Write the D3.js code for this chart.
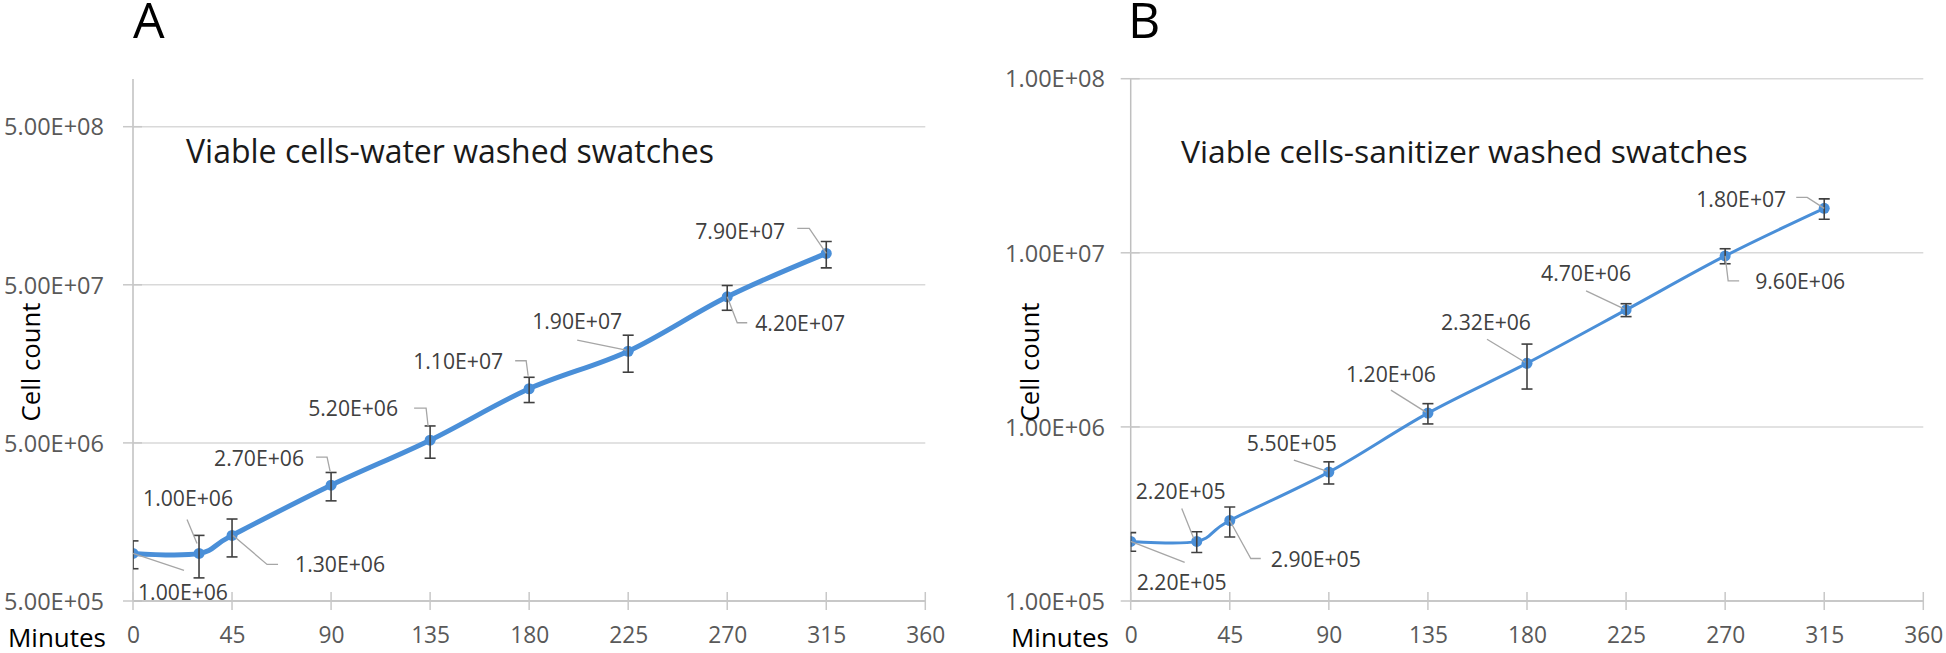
<!DOCTYPE html>
<html>
<head>
<meta charset="utf-8">
<script src="https://cdn.jsdelivr.net/npm/d3@7"></script>
<style>
  html, body { margin: 0; padding: 0; background: #fff; }
  svg { display: block; }
  text { font-family: "Open Sans", "Noto Sans", sans-serif; }
</style>
</head>
<body>
<svg id="chart" width="1946" height="653"></svg>
<script>
// ---------------- DATA ----------------
const minutes = [0, 30, 45, 90, 135, 180, 225, 270, 315];
const xTicks = [0, 45, 90, 135, 180, 225, 270, 315, 360];

const waterCells = [1.0e6, 1.0e6, 1.3e6, 2.7e6, 5.2e6, 1.1e7, 1.9e7, 4.2e7, 7.9e7];
const waterErr   = [2.0e5, 3.0e5, 3.5e5, 5.5e5, 1.2e6, 2.0e6, 5.0e6, 7.5e6, 1.5e7];
const waterTicks = [5e5, 5e6, 5e7, 5e8];

const sanitizerCells = [2.2e5, 2.2e5, 2.9e5, 5.5e5, 1.2e6, 2.32e6, 4.7e6, 9.6e6, 1.8e7];
const sanitizerErr   = [2.7e4, 3.0e4, 5.7e4, 8.0e4, 1.6e5, 6.7e5, 4.0e5, 9.5e5, 2.4e6];
const sanitizerTicks = [1e5, 1e6, 1e7, 1e8];

const panelLetters = ["A", "B"];
const panelTitles = ["Viable cells-water washed swatches", "Viable cells-sanitizer washed swatches"];
const yTitle = "Cell count";
const xTitle = "Minutes";

// -------------- LAYOUT (label offsets relative to the data point, px) --------------
const waterLabelLayout = [
  {d: [50, 39],    lead: [[0, 0], [51, 17]]},
  {d: [-11, -55],  lead: [[-12, -34], [-2, -10]]},
  {d: [108, 29],   lead: [[1, 0], [35, 29], [46, 29]]},
  {d: [-72, -27],  lead: [[-15, -28], [-4, -28], [-1, -14]]},
  {d: [-77, -32],  lead: [[-16, -32], [-4, -32], [-2, -14]]},
  {d: [-71, -27],  lead: [[-14, -28], [-3, -28], [-1, -13]]},
  {d: [-51, -30],  lead: [[-51, -11], [-2, -1]]},
  {d: [73, 27],    lead: [[0, 0], [10, 26], [20, 26]]},
  {d: [-86, -22],  lead: [[-29, -25], [-17, -25], [0, 0]]}
];
const sanitizerLabelLayout = [
  {d: [51, 41],    lead: [[0, 0], [54, 21]]},
  {d: [-16, -50],  lead: [[-15, -33], [-3, -3]]},
  {d: [86, 39],    lead: [[0, 0], [21, 38], [31, 38]]},
  {d: [-37, -29],  lead: [[-35, -12], [-2, -1]]},
  {d: [-37, -39],  lead: [[-37, -23], [-2, -1]]},
  {d: [-41, -41],  lead: [[-40, -24], [-2, -1]]},
  {d: [-40, -36],  lead: [[-40, -19], [-2, -1]]},
  {d: [75, 26],    lead: [[0, 0], [3, 25], [14, 25]]},
  {d: [-83, -9],   lead: [[-28, -11], [-17, -11], [0, 0]]}
];

const panels = [
  {
    letter: panelLetters[0], title: panelTitles[0],
    values: waterCells, errs: waterErr, yTicks: waterTicks, labels: waterLabelLayout,
    x0: 133, x1: 925.3, yBottom: 601, yTop: 126.7, axisTop: 79,
    yLabelRight: 104, titleX: 186, titleW: 528, letterX: 133, yTitleX: 31, xTitleRight: 106,
    lineWidth: 5
  },
  {
    letter: panelLetters[1], title: panelTitles[1],
    values: sanitizerCells, errs: sanitizerErr, yTicks: sanitizerTicks, labels: sanitizerLabelLayout,
    x0: 1130.7, x1: 1923.3, yBottom: 601, yTop: 78.7, axisTop: 78.7,
    yLabelRight: 1105, titleX: 1181, titleW: 567, letterX: 1128, yTitleX: 1030, xTitleRight: 1109,
    lineWidth: 3
  }
];

function fmtSci(v) {
  const [m, e] = v.toExponential(2).split("e");
  const sign = e[0] === "-" ? "-" : "+";
  const ex = Math.abs(+e).toString().padStart(2, "0");
  return m + "E" + sign + ex;
}

const svg = d3.select("#chart");
const BLUE = "#4a8fd8";

// font size that makes a sample string reach the width measured on the reference
function fitSize(sample, targetWidth) {
  const t = svg.append("text").attr("font-size", 20).text(sample);
  const w = t.node().getComputedTextLength();
  t.remove();
  return w > 0 ? 20 * targetWidth / w : 20;
}
const fsYTick = fitSize("5.00E+08", 100);
const fsXTick = fitSize("135", 39);
const fsData = fitSize("7.90E+07", 90);
const fsMinutes = fitSize(xTitle, 98);
const fsCell = fitSize(yTitle, 119);
const fsLetter = Math.min(fitSize("A", 33), 50);

panels.forEach((p, pi) => {
  const g = svg.append("g");
  const x = d3.scaleLinear().domain([0, 360]).range([p.x0, p.x1]);
  const y = d3.scaleLog().domain([p.yTicks[0], p.yTicks[p.yTicks.length - 1]]).range([p.yBottom, p.yTop]);

  const clipId = "clip" + pi;
  svg.append("defs").append("clipPath").attr("id", clipId)
    .append("rect").attr("x", p.x0).attr("y", 0).attr("width", p.x1 - p.x0 + 20).attr("height", 653);

  // gridlines
  g.append("g").selectAll("line").data(p.yTicks).join("line")
    .attr("x1", p.x0).attr("x2", p.x1)
    .attr("y1", d => y(d)).attr("y2", d => y(d))
    .attr("stroke", "#d9d9d9").attr("stroke-width", 1.5);

  // y axis
  const yAxis = d3.axisLeft(y).tickValues(p.yTicks).tickFormat(fmtSci).tickSize(0).tickPadding(0);
  const ya = g.append("g").attr("transform", `translate(${p.yLabelRight},0)`).call(yAxis);
  ya.select(".domain").remove();
  ya.selectAll("text").attr("font-size", fsYTick).attr("fill", "#595959")
    .attr("font-family", '"Open Sans", sans-serif').attr("dy", "0.35em").attr("x", 0);
  g.append("line").attr("x1", x(0)).attr("x2", x(0)).attr("y1", p.axisTop).attr("y2", p.yBottom)
    .attr("stroke", "#bfbfbf").attr("stroke-width", 1.5);
  g.append("g").selectAll("line").data(p.yTicks).join("line")
    .attr("x1", x(0) - 10).attr("x2", x(0) + 9)
    .attr("y1", d => y(d)).attr("y2", d => y(d))
    .attr("stroke", "#c8c8c8").attr("stroke-width", 1.5);

  // x axis
  const xAxis = d3.axisBottom(x).tickValues(xTicks).tickSize(0).tickPadding(0);
  const xa = g.append("g").attr("transform", `translate(0,${p.yBottom})`).call(xAxis);
  xa.select(".domain").remove();
  xa.selectAll("text").attr("font-size", fsXTick).attr("fill", "#595959")
    .attr("font-family", '"Open Sans", sans-serif').attr("y", 34).attr("dy", "0.35em");
  g.append("line").attr("x1", p.x0).attr("x2", p.x1).attr("y1", p.yBottom).attr("y2", p.yBottom)
    .attr("stroke", "#bfbfbf").attr("stroke-width", 1.5);
  g.append("g").selectAll("line").data(xTicks).join("line")
    .attr("x1", d => x(d)).attr("x2", d => x(d))
    .attr("y1", p.yBottom - 9).attr("y2", p.yBottom + 9)
    .attr("stroke", "#c8c8c8").attr("stroke-width", 1.5);

  // titles
  g.append("text").attr("x", p.letterX).attr("y", 38).attr("font-size", fsLetter).attr("fill", "#000").text(p.letter);
  const fsTitle = fitSize(p.title, p.titleW);
  g.append("text").attr("x", p.titleX).attr("y", 163).attr("font-size", fsTitle).attr("fill", "#1a1a1a").text(p.title);
  g.append("text").attr("transform", `translate(${p.yTitleX},362) rotate(-90)`)
    .attr("text-anchor", "middle").attr("dy", "0.35em").attr("font-size", fsCell).attr("fill", "#000").text(yTitle);
  g.append("text").attr("x", p.xTitleRight).attr("y", 638).attr("dy", "0.35em")
    .attr("text-anchor", "end").attr("font-size", fsMinutes).attr("fill", "#000").text(xTitle);

  const pts = minutes.map((m, i) => ({m, v: p.values[i], e: p.errs[i], lab: p.labels[i]}));

  const plot = g.append("g").attr("clip-path", `url(#${clipId})`);

  const line = d3.line().x(d => x(d.m)).y(d => y(d.v)).curve(d3.curveCardinal.tension(0));
  plot.append("path").datum(pts).attr("d", line)
    .attr("fill", "none").attr("stroke", BLUE).attr("stroke-width", p.lineWidth)
    .attr("stroke-linejoin", "round").attr("stroke-linecap", "round");

  plot.append("g").selectAll("circle").data(pts).join("circle")
    .attr("cx", d => x(d.m)).attr("cy", d => y(d.v)).attr("r", 5.5).attr("fill", BLUE);

  const eb = plot.append("g").attr("stroke", "#404040").attr("stroke-width", 1.6).attr("fill", "none");
  pts.forEach(d => {
    const cx = x(d.m), yt = y(d.v + d.e), yb = y(d.v - d.e);
    eb.append("line").attr("x1", cx).attr("x2", cx).attr("y1", yt).attr("y2", yb);
    eb.append("line").attr("x1", cx - 5.5).attr("x2", cx + 5.5).attr("y1", yt).attr("y2", yt);
    eb.append("line").attr("x1", cx - 5.5).attr("x2", cx + 5.5).attr("y1", yb).attr("y2", yb);
  });

  const lg = g.append("g");
  pts.forEach(d => {
    const px = x(d.m), py = y(d.v);
    lg.append("polyline")
      .attr("points", d.lab.lead.map(q => `${px + q[0]},${py + q[1]}`).join(" "))
      .attr("fill", "none").attr("stroke", "#a6a6a6").attr("stroke-width", 1.3);
    lg.append("text").attr("x", px + d.lab.d[0]).attr("y", py + d.lab.d[1]).attr("dy", "0.35em")
      .attr("text-anchor", "middle").attr("font-size", fsData).attr("fill", "#404040").text(fmtSci(d.v));
  });
});
</script>
</body>
</html>
